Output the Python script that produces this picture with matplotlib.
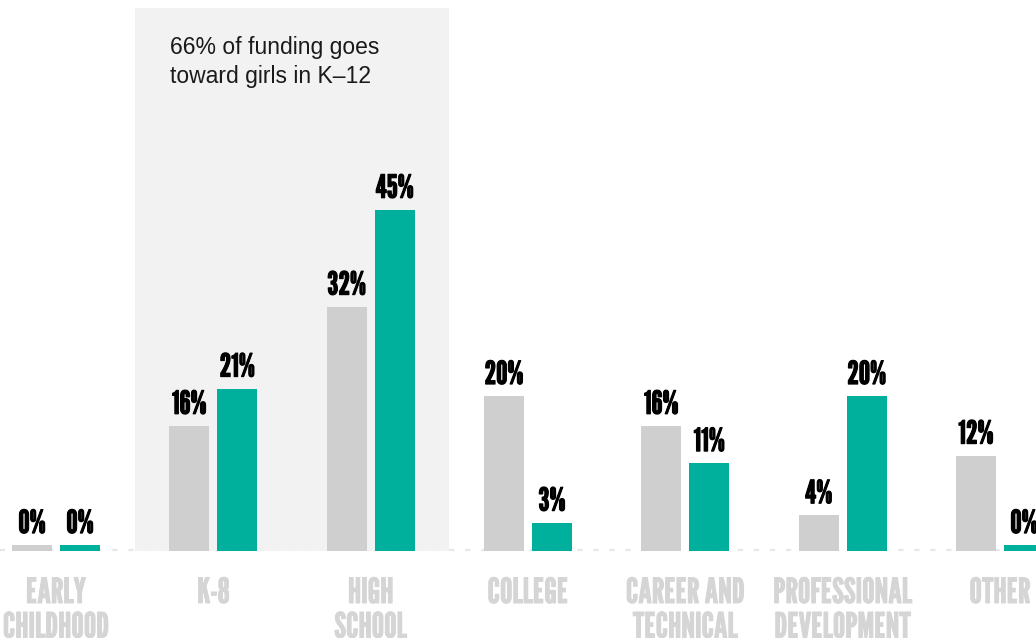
import numpy as np
import matplotlib
matplotlib.use("Agg")
import matplotlib.pyplot as plt
import matplotlib.patheffects as pe
from matplotlib.patches import Rectangle

categories = ["EARLY\nCHILDHOOD", "K-8", "HIGH\nSCHOOL", "COLLEGE",
              "CAREER AND\nTECHNICAL", "PROFESSIONAL\nDEVELOPMENT", "OTHER"]
all_funding = [0, 16, 32, 20, 16, 4, 12]
girls_funding = [0, 21, 45, 3, 11, 20, 0]
k12_groups = [1, 2]
note = "66% of funding goes\ntoward girls in K–12"

GREY = "#cfcfcf"
TEAL = "#00b09c"
LABEL_GREY = "#d5d5d5"
SHADE = "#f2f2f2"
COND = ["League Gothic", "Bebas Neue", "DejaVu Sans"]

# pixel layout helpers
W, H = 1036, 638
step = 157.33          # px between group centres
x0 = 56                # px of first group centre
ppu = 7.45             # px per percentage point
base = 551             # px (from top) of bar bottoms
stub = 0.8             # minimum bar height shown for 0%

fig = plt.figure(figsize=(W / 100, H / 100), dpi=100)
ax = fig.add_axes([0, 0, 1, 1])
ax.set_xlim(-x0 / step, (W - x0) / step)
ax.set_ylim(-(H - base) / ppu, base / ppu)
ax.axis("off")

x = np.arange(len(categories))
bw = 40 / step
off = 24 / step

# dashed baseline
ax.axhline(0.2, color="#e6e6e6", lw=1.5, dashes=(2.4, 5.3), zorder=0)

# shaded K-12 panel
left = min(k12_groups) - 0.5
ax.add_patch(Rectangle((left, 0), len(k12_groups), (base - 8) / ppu,
                       facecolor=SHADE, edgecolor="none", zorder=1))
ax.text(left + 35 / step, (base - 36) / ppu, note, ha="left", va="top",
        fontsize=16.5, family="Liberation Sans", color="#1a1a1a", linespacing=1.32,
        zorder=3)

h1 = np.array(all_funding) + stub
h2 = np.array(girls_funding) + stub
b1 = ax.bar(x - off, h1, bw, color=GREY, zorder=2)
b2 = ax.bar(x + off, h2, bw, color=TEAL, zorder=2)

for bars, vals in ((b1, all_funding), (b2, girls_funding)):
    for r, v in zip(bars, vals):
        ax.annotate(f"{v}%", (r.get_x() + r.get_width() / 2, r.get_height()),
                    xytext=(0, 12), textcoords="offset pixels",
                    ha="center", va="baseline", family=COND,
                    fontsize=23, color="black", zorder=3,
                    path_effects=[pe.withStroke(linewidth=0.8, foreground="black")])

for xi, lab in zip(x, categories):
    ax.annotate(lab, (xi, 0), xytext=(0, -27), textcoords="offset pixels",
                ha="center", va="top", family=COND, fontsize=25,
                color=LABEL_GREY, linespacing=1.14, annotation_clip=False,
                path_effects=[pe.withStroke(linewidth=0.7, foreground=LABEL_GREY)])

fig.savefig("out.png", dpi=100)
